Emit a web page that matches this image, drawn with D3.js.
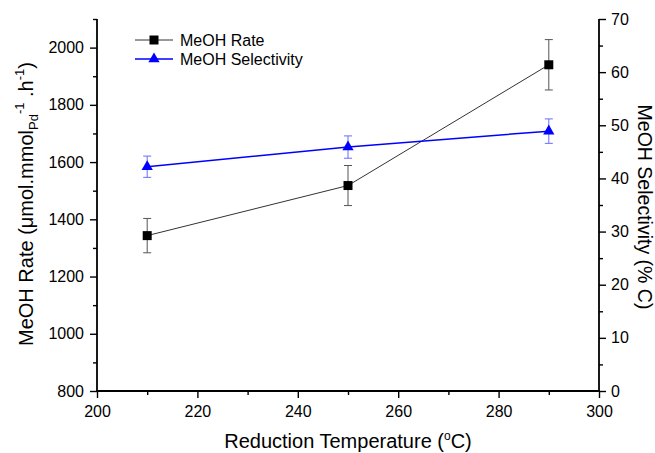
<!DOCTYPE html>
<html>
<head>
<meta charset="utf-8">
<script src="https://cdn.jsdelivr.net/npm/d3@7/dist/d3.min.js"></script>
<style>
  html, body { margin: 0; padding: 0; background: #fff; }
  svg { display: block; font-family: "Liberation Sans", Arial, sans-serif; }
  .axis path, .axis line { stroke: #000; }
  .axis text { fill: #000; font-size: 16px; font-family: "Liberation Sans", Arial, sans-serif; }
</style>
</head>
<body>
<svg id="chart" width="655" height="453"></svg>
<script>
// Reduction temperature (°C) and measured methanol performance
const temps = [210, 250, 290];
const rate = [1343, 1518, 1940];
const rateErr = [60, 70, 88];
const selectivity = [42.2, 45.9, 48.9];
const selectivityErr = [2.0, 2.1, 2.3];

const xTicks = [200, 220, 240, 260, 280, 300];
const xMinor = [210, 230, 250, 270, 290];
const rateTicks = [800, 1000, 1200, 1400, 1600, 1800, 2000];
const rateMinor = [900, 1100, 1300, 1500, 1700, 1900, 2100];
const selTicks = [0, 10, 20, 30, 40, 50, 60, 70];
const selMinor = [5, 15, 25, 35, 45, 55, 65];

const seriesNames = ["MeOH Rate", "MeOH Selectivity"];

const svg = d3.select("#chart");
const plotLeft = 97, plotRight = 599, plotTop = 19, plotBottom = 391;

const x = d3.scaleLinear().domain([200, 300]).range([plotLeft, plotRight]);
const yRate = d3.scaleLinear().domain([800, 2100]).range([plotBottom, plotTop]);
const ySel = d3.scaleLinear().domain([0, 70]).range([plotBottom, plotTop]);

// Axes: major ticks with labels, minor ticks unlabeled
function drawAxis(makeAxis, major, minor, transform, pad) {
  const g = svg.append("g").attr("class", "axis").attr("transform", transform);
  g.call(makeAxis().tickValues(major).tickSize(7).tickSizeOuter(0)
    .tickPadding(pad).tickFormat(d3.format("d")));
  g.select(".domain").attr("stroke-width", 1.8);
  g.selectAll(".tick line").attr("stroke-width", 1.4);
  const gm = svg.append("g").attr("class", "axis").attr("transform", transform);
  gm.call(makeAxis().tickValues(minor).tickSize(4).tickSizeOuter(0).tickFormat(""));
  gm.select(".domain").remove();
  gm.selectAll(".tick line").attr("stroke-width", 1.4);
  return g;
}

const gx = drawAxis(() => d3.axisBottom(x), xTicks, xMinor, `translate(0,${plotBottom})`, 7);
gx.selectAll(".tick text").attr("dy", "0.78em");
gx.select(".domain").attr("d", `M${plotLeft - 1},0H${plotRight + 1}`);

const gl = drawAxis(() => d3.axisLeft(yRate), rateTicks, rateMinor, `translate(${plotLeft},0)`, 6);
gl.select(".domain").attr("d", `M0,${plotBottom}V${plotTop}`);

const gr = drawAxis(() => d3.axisRight(ySel), selTicks, selMinor, `translate(${plotRight},0)`, 5);
gr.select(".domain").attr("d", `M0,${plotBottom}V${plotTop}`);

// Series data joined with their errors
const rateData = temps.map((t, i) => ({ t, v: rate[i], e: rateErr[i] }));
const selData = temps.map((t, i) => ({ t, v: selectivity[i], e: selectivityErr[i] }));

function errorBars(data, y, color) {
  const g = svg.append("g").attr("stroke", color).attr("stroke-width", 1).attr("fill", "none");
  data.forEach(d => {
    const cx = x(d.t), y1 = y(d.v + d.e), y2 = y(d.v - d.e);
    g.append("line").attr("x1", cx).attr("x2", cx).attr("y1", y1).attr("y2", y2);
    g.append("line").attr("x1", cx - 4).attr("x2", cx + 4).attr("y1", y1).attr("y2", y1);
    g.append("line").attr("x1", cx - 4).attr("x2", cx + 4).attr("y1", y2).attr("y2", y2);
  });
}

errorBars(rateData, yRate, "#555");
errorBars(selData, ySel, "#6b6bff");

svg.append("path").datum(rateData)
  .attr("fill", "none").attr("stroke", "#333").attr("stroke-width", 1)
  .attr("d", d3.line().x(d => x(d.t)).y(d => yRate(d.v)));

svg.append("path").datum(selData)
  .attr("fill", "none").attr("stroke", "#0000ff").attr("stroke-width", 1.5)
  .attr("d", d3.line().x(d => x(d.t)).y(d => ySel(d.v)));

const square = d3.symbol().type(d3.symbolSquare).size(81);
const triangle = d3.symbol().type(d3.symbolTriangle).size(55);

svg.append("g").selectAll("path").data(rateData).join("path")
  .attr("transform", d => `translate(${x(d.t)},${yRate(d.v)})`)
  .attr("d", square).attr("fill", "#000");

svg.append("g").selectAll("path").data(selData).join("path")
  .attr("transform", d => `translate(${x(d.t)},${ySel(d.v)})`)
  .attr("d", triangle).attr("fill", "#0000ff");

// Legend
const legend = svg.append("g").attr("transform", "translate(135,40)");
const legendItems = [
  { name: seriesNames[0], color: "#333", sym: square, fill: "#000", w: 1 },
  { name: seriesNames[1], color: "#0000ff", sym: triangle, fill: "#0000ff", w: 1.5 }
];
legendItems.forEach((it, i) => {
  const g = legend.append("g").attr("transform", `translate(0,${i * 19})`);
  g.append("line").attr("x1", 0).attr("x2", 38).attr("y1", 0).attr("y2", 0)
    .attr("stroke", it.color).attr("stroke-width", it.w);
  g.append("path").attr("d", it.sym).attr("fill", it.fill)
    .attr("transform", "translate(19,0)");
  g.append("text").attr("x", 45).attr("y", 0).attr("dy", "0.35em")
    .attr("font-size", 16).attr("fill", "#000").text(it.name);
});

// Axis titles
const xt = svg.append("text").attr("x", 348).attr("y", 448)
  .attr("text-anchor", "middle").attr("font-size", 20).attr("fill", "#000");
xt.append("tspan").text("Reduction Temperature (");
xt.append("tspan").attr("font-size", 12).attr("dy", -8).text("o");
xt.append("tspan").attr("dy", 8).text("C)");

const yt = svg.append("text")
  .attr("transform", "translate(33,346) rotate(-90)")
  .attr("text-anchor", "start").attr("font-size", 20).attr("fill", "#000");
yt.append("tspan").text("MeOH Rate (\u03bcmol.mmol");
yt.append("tspan").attr("font-size", 13).attr("dy", 5).text("Pd");
yt.append("tspan").attr("font-size", 13).attr("dy", -14).text("-1");
yt.append("tspan").attr("dy", 9).text(" .h");
yt.append("tspan").attr("font-size", 13).attr("dy", -9).text("-1");
yt.append("tspan").attr("dy", 9).text(")");

svg.append("text")
  .attr("transform", "translate(638,207) rotate(90)")
  .attr("text-anchor", "middle").attr("font-size", 19.5).attr("fill", "#000")
  .text("MeOH Selectivity (% C)");
</script>
</body>
</html>
